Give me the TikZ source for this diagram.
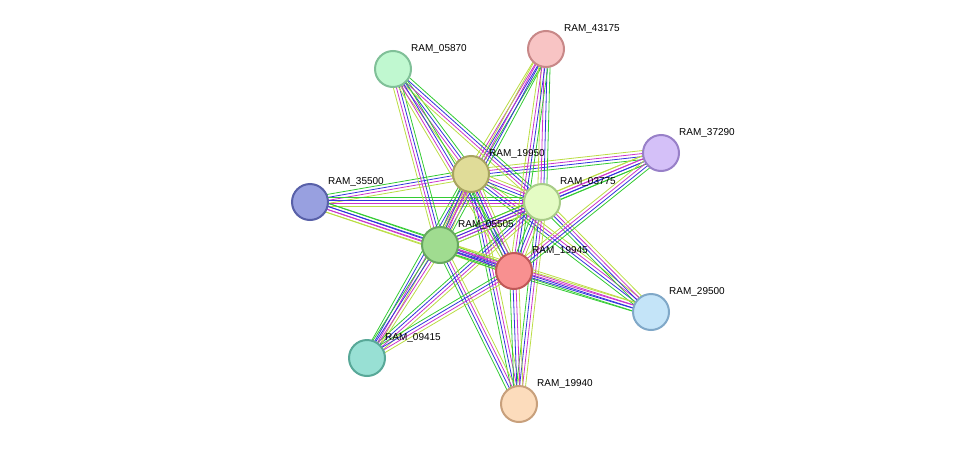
\documentclass[tikz,border=0pt]{standalone}
\usepackage{fontspec}
\setmainfont{Liberation Sans}
\usetikzlibrary{calc}
\begin{document}
\begin{tikzpicture}[x=1pt,y=-1pt,
  prot/.style={circle,minimum size=36pt,inner sep=0pt,line width=2pt},
  lab/.style={anchor=west,font=\fontsize{10pt}{11pt}\selectfont,inner sep=0pt}]
\useasboundingbox[fill=white] (0,0) rectangle (976,450);
\def\P#1#2#3#4#5{\coordinate (#1) at (#2,#3);}
\P{a}{393}{69}{}{}\P{b}{546}{49}{}{}\P{c}{661}{153}{}{}\P{d}{471}{174}{}{}
\P{e}{542}{202}{}{}\P{f}{310}{202}{}{}\P{g}{440}{245}{}{}\P{h}{514}{271}{}{}
\P{i}{651}{312}{}{}\P{j}{367}{358}{}{}\P{k}{519}{404}{}{}
\definecolor{eg}{HTML}{33CC33}\definecolor{eb}{HTML}{3333DD}
\definecolor{em}{HTML}{CC33CC}\definecolor{ey}{HTML}{BBDD44}\definecolor{er}{HTML}{DD2222}
\newcommand\ed[2]{%
 \foreach \o/\c in {-4.5/eg,-1.5/eb,1.5/em,4.5/ey}{%
  \draw[\c,line width=0.8pt] ($(#1)!\o pt!90:(#2)$) -- ($(#2)!\o pt!-90:(#1)$);}}
\foreach \u in {d,e,g,h}{\foreach \v in {a,b,c,f,i,j,k}{\ed{\u}{\v}}}
\ed{d}{e}\ed{d}{g}\ed{d}{h}\ed{e}{g}\ed{e}{h}\ed{g}{h}
\newcommand\nd[6]{\definecolor{f#1}{HTML}{#4}\definecolor{s#1}{HTML}{#5}%
 \node[prot,fill=f#1,draw=s#1] (n#1) at (#1) {};
 \node[lab] at ($(#1)+(18,-20)$) {#6};}
\nd{a}{}{}{C0F8D0}{80C098}{RAM\_05870}
\nd{b}{}{}{F8C4C4}{C88888}{RAM\_43175}
\nd{c}{}{}{D4C0F8}{9880C8}{RAM\_37290}
\nd{d}{}{}{E0DC98}{A8A460}{RAM\_19950}
\nd{e}{}{}{E4FCC4}{A8CC88}{RAM\_03775}
\nd{f}{}{}{98A0E0}{5860A8}{RAM\_35500}
\nd{g}{}{}{A0DC90}{68A860}{RAM\_05505}
\nd{h}{}{}{F89090}{C05858}{RAM\_19945}
\nd{i}{}{}{C4E4F8}{80A8C8}{RAM\_29500}
\nd{j}{}{}{98E0D4}{58A898}{RAM\_09415}
\nd{k}{}{}{FCDCBC}{C8A07C}{RAM\_19940}
\end{tikzpicture}
\end{document}
